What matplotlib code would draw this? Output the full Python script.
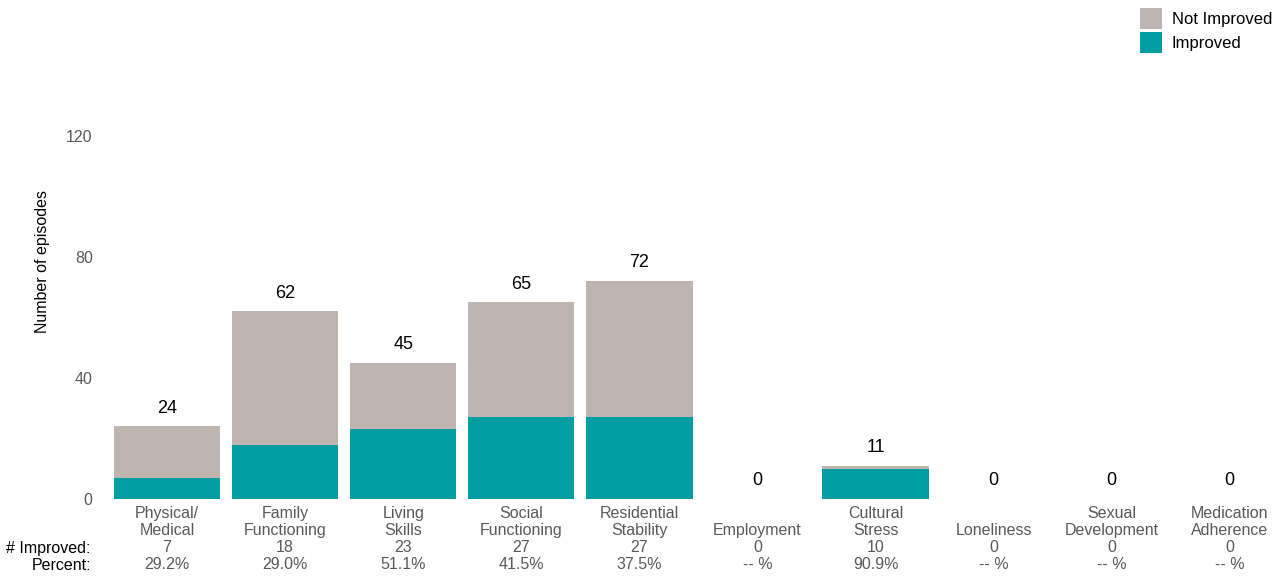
import matplotlib as mpl
import matplotlib.pyplot as plt
import numpy as np

mpl.rcParams["font.family"] = ["Liberation Sans", "DejaVu Sans"]

COL_NOT = '#BEB5B0'
COL_IMP = '#009EA3'
COL_TICK = '#595959'

categories = ['Physical/\nMedical', 'Family\nFunctioning', 'Living\nSkills',
              'Social\nFunctioning', 'Residential\nStability', 'Employment',
              'Cultural\nStress', 'Loneliness', 'Sexual\nDevelopment',
              'Medication\nAdherence']
improved = [7, 18, 23, 27, 27, 0, 10, 0, 0, 0]
totals = [24, 62, 45, 65, 72, 0, 11, 0, 0, 0]
percents = ['29.2%', '29.0%', '51.1%', '41.5%', '37.5%', '-- %', '90.9%',
            '-- %', '-- %', '-- %']

improved = np.array(improved)
totals = np.array(totals)
not_improved = totals - improved
x = np.arange(len(categories))

fig = plt.figure(figsize=(12.77, 5.79), dpi=100)
ax = fig.add_axes([108/1277, 80/579, 1169/1277, 363/579])

ax.bar(x, improved, width=0.9, color=COL_IMP, label='Improved')
ax.bar(x, not_improved, width=0.9, bottom=improved, color=COL_NOT, label='Not Improved')

# totals above bars
for xi, t in zip(x, totals):
    ax.annotate(str(t), (xi, t), xytext=(0, 7), textcoords='offset points',
                ha='center', va='bottom', fontsize=13, color='black')

# tick labels with count and percent rows
ticklabels = []
for c, n, p in zip(categories, improved, percents):
    if '\n' not in c:
        c = '\n' + c
    ticklabels.append(c + '\n' + str(n) + '\n' + p)
ax.set_xticks(x)
ax.set_xticklabels(ticklabels, fontsize=11.5, color=COL_TICK, linespacing=1.17)
ax.tick_params(axis='x', length=0, pad=5)

fig.text(91/1277, 1 - 541/579, '# Improved:\nPercent:', ha='right', va='top',
         fontsize=11.5, color='black', linespacing=1.17)

ax.set_xlim(-0.5, 9.4)
ax.set_ylim(0, 120)
ax.set_yticks([0, 40, 80, 120])
ax.tick_params(axis='y', length=0, pad=11, labelsize=11.5, labelcolor=COL_TICK)
ax.set_ylabel('Number of episodes', fontsize=11.5, color='black')
ax.yaxis.set_label_coords(-58/1169, 0.653)

for s in ax.spines.values():
    s.set_visible(False)

handles, labels = ax.get_legend_handles_labels()
leg = fig.legend(handles[::-1], labels[::-1], loc='upper right',
                 bbox_to_anchor=(1.0 + 5/1277, 1.0 + 2/579), frameon=False, fontsize=12,
                 handlelength=1.3, handleheight=1.6, handletextpad=0.6,
                 labelspacing=0.15, borderaxespad=0.2)

fig.savefig('out.png', dpi=100)
plt.close()
